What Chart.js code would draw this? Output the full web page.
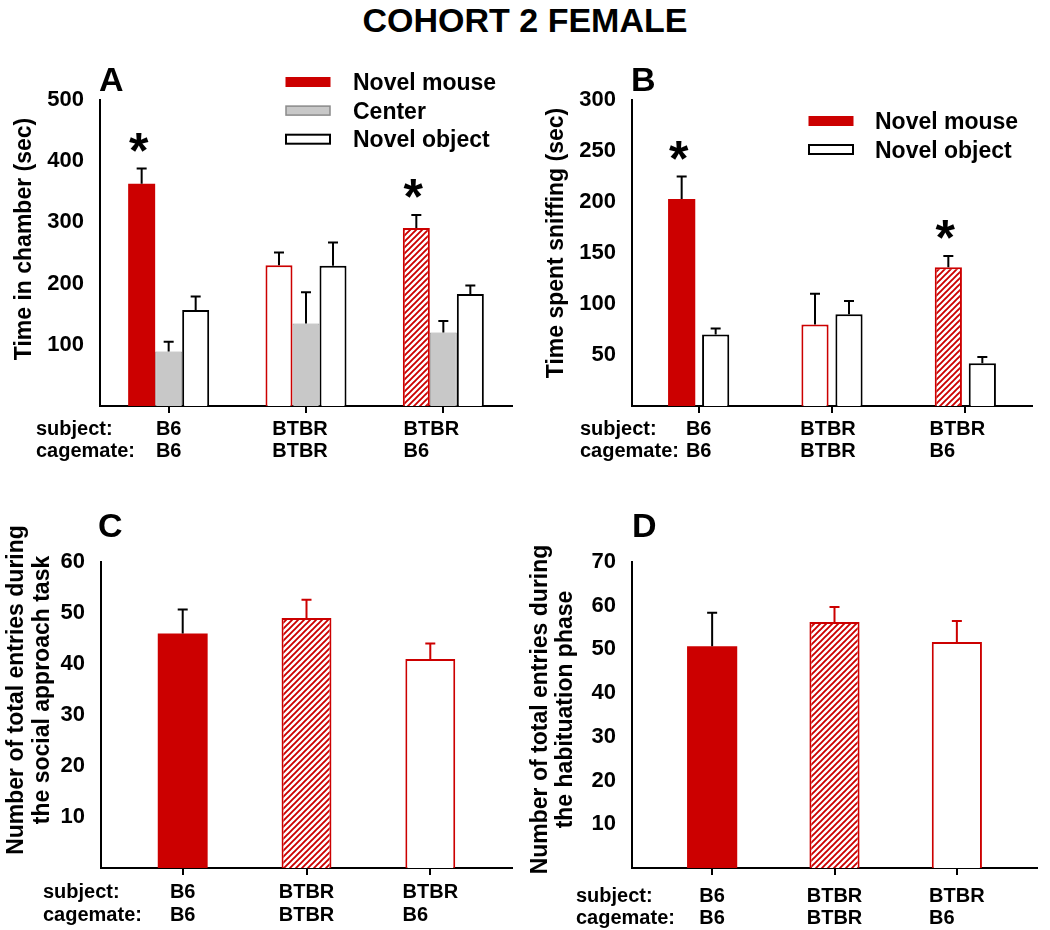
<!DOCTYPE html>
<html>
<head>
<meta charset="utf-8">
<title>Cohort 2 female</title>
<script src="https://cdn.jsdelivr.net/npm/chart.js@4.4.0/dist/chart.umd.min.js"></script>
<style>
  body { margin: 0; background: #fff; width: 1050px; height: 930px; position: relative; overflow: hidden;
         font-family: "Liberation Sans", Arial, Helvetica, sans-serif; }
  #title { position: absolute; top: 0; left: 0; width: 1050px; text-align: center;
           font-weight: bold; font-size: 34px; line-height: 40px; color: #000; }
  .panel { position: absolute; }
</style>
</head>
<body>
<div id="title">COHORT 2 FEMALE</div>
<div class="panel" style="left:0;top:40px;width:520px;height:440px"><canvas id="chartA"></canvas></div>
<div class="panel" style="left:520px;top:40px;width:530px;height:440px"><canvas id="chartB"></canvas></div>
<div class="panel" style="left:0;top:480px;width:520px;height:450px"><canvas id="chartC"></canvas></div>
<div class="panel" style="left:520px;top:480px;width:530px;height:450px"><canvas id="chartD"></canvas></div>

<script>
// groups on the x axis
const groupSubjects = ['B6', 'BTBR', 'BTBR'];
const groupCagemates = ['B6', 'BTBR', 'B6'];

// A: time in chamber (sec), mean and SEM
const chamberMouse = [363, 230, 291];
const chamberMouseSem = [25, 21, 21];
const chamberCenter = [89, 135, 120];
const chamberCenterSem = [16, 51, 19];
const chamberObject = [157, 229, 183];
const chamberObjectSem = [22, 38, 14];
const chamberStars = [true, false, true];

// B: time spent sniffing (sec)
const sniffMouse = [203, 80, 136];
const sniffMouseSem = [22, 30, 11];
const sniffObject = [70, 90, 42];
const sniffObjectSem = [6, 13, 6];
const sniffStars = [true, false, true];

// C: entries during social approach task
const socialEntries = [46, 49, 41];
const socialEntriesSem = [4.7, 3.6, 3.0];

// D: entries during habituation phase
const habitEntries = [50.7, 56.3, 51.7];
const habitEntriesSem = [7.7, 3.4, 4.8];

const yTicksA = { max: 500, step: 100 };
const yTicksB = { max: 300, step: 50 };
const yTicksC = { max: 60, step: 10 };
const yTicksD = { max: 70, step: 10 };

const RED = '#cc0000';
const GRAY = '#c8c8c8';
const FONT = '"Liberation Sans", Arial, Helvetica, sans-serif';

Chart.defaults.font.family = FONT;
Chart.defaults.color = '#000';

// white bar with red "/" stripes
const makeHatch = () => {
  const c = document.createElement('canvas');
  c.width = 6; c.height = 6;
  const g = c.getContext('2d');
  g.fillStyle = '#fff';
  g.fillRect(0, 0, 6, 6);
  g.strokeStyle = RED;
  g.lineWidth = 1.9;
  g.beginPath();
  g.moveTo(-1, 7); g.lineTo(7, -1);
  g.moveTo(-4, 4); g.lineTo(4, -4);
  g.moveTo(2, 10); g.lineTo(10, 2);
  g.stroke();
  return g.createPattern(c, 'repeat');
};
const HATCH = makeHatch();

const xy = (arr) => arr.map((v, i) => ({ x: i, y: v }));

// error bars, stars, panel letter, y title, group rows and legend
const makeDecor = (cfg) => ({
  id: 'decor',
  afterDatasetsDraw(chart) {
    const ctx = chart.ctx;
    const yScale = chart.scales.y;
    const xScale = chart.scales.x;
    const area = chart.chartArea;
    ctx.save();

    chart.data.datasets.forEach((ds, di) => {
      const meta = chart.getDatasetMeta(di);
      meta.data.forEach((bar, i) => {
        const top = yScale.getPixelForValue(ds.means[i] + ds.sem[i]);
        const color = ds.errColors ? ds.errColors[i] : '#000';
        ctx.strokeStyle = color;
        ctx.lineWidth = 2;
        ctx.beginPath();
        ctx.moveTo(bar.x, bar.y);
        ctx.lineTo(bar.x, top);
        ctx.moveTo(bar.x - 5, top);
        ctx.lineTo(bar.x + 5, top);
        ctx.stroke();
        if (ds.stars && ds.stars[i]) {
          ctx.fillStyle = '#000';
          ctx.font = 'bold 50px ' + FONT;
          ctx.textAlign = 'center';
          ctx.textBaseline = 'alphabetic';
          ctx.fillText('*', bar.x - 3, top - 1);
        }
      });
    });

    ctx.fillStyle = '#000';
    ctx.textBaseline = 'alphabetic';

    // panel letter
    ctx.font = 'bold 34px ' + FONT;
    ctx.textAlign = 'left';
    ctx.fillText(cfg.letter, cfg.letterX, cfg.letterY);

    // y axis title (rotated)
    ctx.save();
    ctx.translate(cfg.titleX, cfg.titleY);
    ctx.rotate(-Math.PI / 2);
    ctx.font = 'bold 23px ' + FONT;
    ctx.textAlign = 'center';
    ctx.textBaseline = 'middle';
    const n = cfg.yTitle.length;
    cfg.yTitle.forEach((line, k) => ctx.fillText(line, 0, (k - (n - 1) / 2) * cfg.titleGap));
    ctx.restore();

    // subject / cagemate rows
    ctx.font = 'bold 20px ' + FONT;
    ctx.textAlign = 'left';
    const row1 = area.bottom + cfg.rowOffsets[0];
    const row2 = area.bottom + cfg.rowOffsets[1];
    ctx.fillText('subject:', cfg.rowLabelX, row1);
    ctx.fillText('cagemate:', cfg.rowLabelX, row2);
    groupSubjects.forEach((s, i) => {
      const c = groupCagemates[i];
      const w = Math.max(ctx.measureText(s).width, ctx.measureText(c).width);
      const left = xScale.getPixelForValue(i) - w / 2 - cfg.rowShift * i;
      ctx.fillText(s, left, row1);
      ctx.fillText(c, left, row2);
    });

    // legend
    if (cfg.legend) {
      const lg = cfg.legend;
      ctx.font = 'bold 23px ' + FONT;
      chart.data.datasets.forEach((ds, k) => {
        const cy = lg.y + k * lg.gap;
        ctx.fillStyle = ds.legendFill;
        ctx.fillRect(lg.x, cy - 4.5, 44, 9);
        ctx.strokeStyle = ds.legendStroke;
        ctx.lineWidth = ds.legendLine;
        ctx.strokeRect(lg.x, cy - 4.5, 44, 9);
        ctx.fillStyle = '#000';
        ctx.fillText(ds.label, lg.textX, cy + 8);
      });
    }
    ctx.restore();
  }
});

const buildPanel = (canvasId, cfg) => {
  const canvas = document.getElementById(canvasId);
  const boxW = canvas.parentNode.clientWidth;
  const boxH = canvas.parentNode.clientHeight;
  const a = cfg.area;
  return new Chart(canvas, {
    type: 'bar',
    data: { datasets: cfg.datasets },
    options: {
      responsive: true,
      maintainAspectRatio: false,
      animation: false,
      events: [],
      layout: { padding: { left: 0, top: a.top, right: boxW - a.right, bottom: 0 } },
      datasets: { bar: { categoryPercentage: cfg.catPct, barPercentage: cfg.barPct, borderSkipped: 'start' } },
      plugins: { legend: { display: false }, tooltip: { enabled: false } },
      scales: {
        x: {
          type: 'linear',
          offset: false,
          min: -cfg.xPad,
          max: groupSubjects.length - 1 + cfg.xPad,
          afterBuildTicks: (s) => { s.ticks = groupSubjects.map((_, i) => ({ value: i })); },
          afterFit: (s) => { s.height = boxH - a.bottom; },
          ticks: { display: false },
          grid: { display: true, offset: false, drawOnChartArea: false, drawTicks: true, tickLength: 7,
                  tickColor: '#000', tickWidth: 2, lineWidth: 2, color: '#000' },
          border: { display: true, color: '#000', width: 2 }
        },
        y: {
          min: 0,
          max: cfg.yTicks.max,
          afterFit: (s) => { s.width = a.left; },
          ticks: {
            stepSize: cfg.yTicks.step,
            padding: 16,
            color: '#000',
            font: { size: 22, weight: 'bold' },
            callback: (v) => (v === 0 ? '' : v)
          },
          grid: { display: false, drawTicks: false },
          border: { display: true, color: '#000', width: 2 }
        }
      }
    },
    plugins: [makeDecor(cfg)]
  });
};

buildPanel('chartA', {
  area: { left: 100, top: 60, right: 512, bottom: 366 },
  xPad: 0.5, catPct: 0.59, barPct: 1,
  yTicks: yTicksA,
  letter: 'A', letterX: 99, letterY: 51,
  yTitle: ['Time in chamber (sec)'], titleX: 25, titleY: 199, titleGap: 26,
  rowLabelX: 36, rowOffsets: [29, 51], rowShift: 6,
  legend: { x: 286, y: 42, gap: 28.6, textX: 353 },
  datasets: [
    { label: 'Novel mouse', data: xy(chamberMouse), means: chamberMouse, sem: chamberMouseSem, stars: chamberStars,
      backgroundColor: [RED, '#fff', HATCH], borderColor: RED, borderWidth: [0, 2, 2],
      legendFill: RED, legendStroke: RED, legendLine: 1 },
    { label: 'Center', data: xy(chamberCenter), means: chamberCenter, sem: chamberCenterSem,
      backgroundColor: GRAY, borderColor: '#9a9a9a', borderWidth: 1,
      legendFill: GRAY, legendStroke: '#8a8a8a', legendLine: 1.5 },
    { label: 'Novel object', data: xy(chamberObject), means: chamberObject, sem: chamberObjectSem,
      backgroundColor: '#fff', borderColor: '#000', borderWidth: 2,
      legendFill: '#fff', legendStroke: '#000', legendLine: 2 }
  ]
});

buildPanel('chartB', {
  area: { left: 112, top: 60, right: 512, bottom: 366 },
  xPad: 0.5, catPct: 0.51, barPct: 0.8,
  yTicks: yTicksB,
  letter: 'B', letterX: 111, letterY: 51,
  yTitle: ['Time spent sniffing (sec)'], titleX: 37, titleY: 203, titleGap: 26,
  rowLabelX: 60, rowOffsets: [29, 51], rowShift: 4,
  legend: { x: 289, y: 81, gap: 28.5, textX: 355 },
  datasets: [
    { label: 'Novel mouse', data: xy(sniffMouse), means: sniffMouse, sem: sniffMouseSem, stars: sniffStars,
      backgroundColor: [RED, '#fff', HATCH], borderColor: RED, borderWidth: [0, 2, 2],
      legendFill: RED, legendStroke: RED, legendLine: 1 },
    { label: 'Novel object', data: xy(sniffObject), means: sniffObject, sem: sniffObjectSem,
      backgroundColor: '#fff', borderColor: '#000', borderWidth: 2,
      legendFill: '#fff', legendStroke: '#000', legendLine: 2 }
  ]
});

buildPanel('chartC', {
  area: { left: 101, top: 82, right: 512, bottom: 388 },
  xPad: 0.66, catPct: 0.403, barPct: 1,
  yTicks: yTicksC,
  letter: 'C', letterX: 98, letterY: 57,
  yTitle: ['Number of total entries during', 'the social approach task'], titleX: 30, titleY: 210, titleGap: 26,
  rowLabelX: 43, rowOffsets: [30, 53], rowShift: 0,
  datasets: [
    { label: 'Entries', data: xy(socialEntries), means: socialEntries, sem: socialEntriesSem,
      errColors: ['#000', RED, RED],
      backgroundColor: [RED, HATCH, '#fff'], borderColor: RED, borderWidth: [0, 2, 2] }
  ]
});

buildPanel('chartD', {
  area: { left: 112, top: 82, right: 517, bottom: 388 },
  xPad: 0.655, catPct: 0.41, barPct: 1,
  yTicks: yTicksD,
  letter: 'D', letterX: 112, letterY: 57,
  yTitle: ['Number of total entries during', 'the habituation phase'], titleX: 33.5, titleY: 229.5, titleGap: 25,
  rowLabelX: 56, rowOffsets: [34, 56], rowShift: 0,
  datasets: [
    { label: 'Entries', data: xy(habitEntries), means: habitEntries, sem: habitEntriesSem,
      errColors: ['#000', RED, RED],
      backgroundColor: [RED, HATCH, '#fff'], borderColor: RED, borderWidth: [0, 2, 2] }
  ]
});
</script>
</body>
</html>
